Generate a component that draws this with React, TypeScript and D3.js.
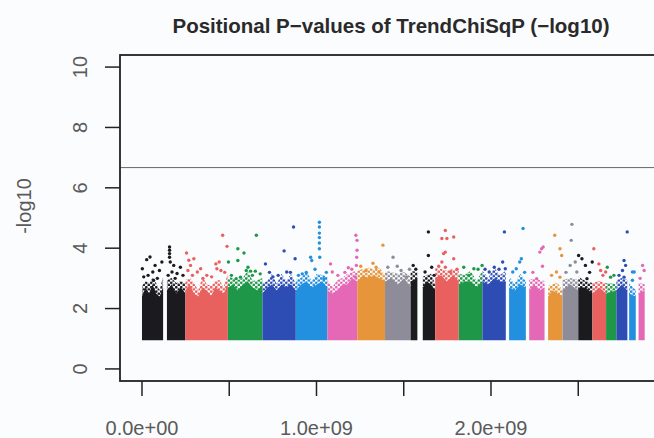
import React from "react";
import * as d3 from "d3";

// chromosome sizes in Mb (hg19), plotted end to end
const chromLengths = [
  249.25, 243.2, 198.02, 191.15, 180.92, 171.12, 159.14, 146.36, 141.21, 135.53, 135.01,
  133.85, 115.17, 107.35, 102.53, 90.35, 81.2, 78.08, 59.13, 63.03, 48.13, 51.3,
];

const chromColors = [
  "#1b1b1f", "#e8615f", "#1e9848", "#2e4db4", "#2290de", "#e468b5", "#e7953b", "#8d8c98",
];

// covered stretches of each chromosome (Mb within chromosome)
const chromSegments: [number, number][][] = [
  [[0, 121], [143, 249]], [[0, 243]], [[0, 198]], [[0, 191]], [[0, 181]], [[0, 171]],
  [[0, 159]], [[0, 146]], [[0, 39], [70, 141]], [[0, 135]], [[0, 135]], [[0, 134]],
  [[19, 115]], [[19, 107]], [[20, 102]], [[0, 90]], [[0, 81]], [[0, 78]], [[0, 59]],
  [[0, 63]], [[10, 48]], [[16, 51]],
];

// upper edge of the solid mass of points (-log10 p), per segment
const denseTops: number[][][] = [
  [[2.4, 2.7, 2.5, 2.8, 2.5, 2.4, 2.7], [2.6, 2.8, 2.5, 2.7, 2.5]],
  [[2.6, 2.8, 2.5, 2.4, 2.7, 2.6, 2.4, 2.7, 2.6, 2.5, 2.8]],
  [[2.7, 2.8, 2.6, 2.8, 2.9, 2.7, 2.6, 2.8]],
  [[2.5, 2.7, 2.8, 2.6, 2.8, 2.7, 2.8, 2.6]],
  [[2.6, 2.8, 2.9, 2.7, 2.8, 2.9, 2.7]],
  [[2.6, 2.5, 2.6, 2.8, 2.8, 3.0, 2.9]],
  [[2.9, 3.1, 3.0, 3.1, 3.0, 2.9]],
  [[2.9, 3.0, 2.8, 3.0, 2.7]],
  [[2.9, 3.0], [2.7, 2.9, 2.8, 2.6]],
  [[3.0, 3.1, 2.9, 3.1, 2.9]],
  [[2.8, 2.9, 2.9, 2.7, 2.9]],
  [[2.9, 2.8, 3.0, 2.9, 2.9]],
  [[2.7, 2.6, 2.8, 2.7]],
  [[2.6, 2.8, 2.6, 2.7]],
  [[2.4, 2.6, 2.5, 2.4]],
  [[2.6, 2.8, 2.6]],
  [[2.7, 2.7, 2.5]],
  [[2.5, 2.7, 2.5]],
  [[2.5, 2.6]],
  [[2.6, 2.8, 2.6]],
  [[2.5, 2.4]],
  [[2.5, 2.6]],
];

// scattered points above the mass: [chromosome index, Mb, -log10 p]
const peaks: [number, number, number][] = [
  [0, 2, 3.32], [0, 27, 3.62], [0, 46, 3.71], [0, 62, 3.21], [0, 75, 3.43], [0, 100, 3.26],
  [0, 114, 3.54], [0, 66, 2.94], [0, 158, 4.04], [0, 158, 3.93], [0, 158, 3.82], [0, 158, 3.7],
  [0, 162, 3.54], [0, 182, 3.43], [0, 172, 3.21], [0, 201, 3.16], [0, 220, 3.37], [0, 10, 3.05],
  [0, 35, 3.1], [0, 88, 3.0], [0, 150, 3.1], [0, 190, 3.0], [0, 235, 3.1],
  [1, 6, 3.84], [1, 19, 3.6], [1, 29, 3.43], [1, 48, 3.65], [1, 14, 3.26], [1, 68, 3.21],
  [1, 87, 3.32], [1, 122, 3.1], [1, 174, 3.48], [1, 193, 3.54], [1, 180, 3.32], [1, 203, 3.26],
  [1, 238, 4.06], [1, 213, 4.43], [1, 40, 3.1], [1, 100, 3.0], [1, 150, 3.05], [1, 225, 3.2],
  [2, 3, 3.54], [2, 57, 3.98], [2, 92, 3.84], [2, 57, 3.59], [2, 115, 3.37], [2, 105, 3.26],
  [2, 130, 3.24], [2, 157, 3.24], [2, 72, 3.04], [2, 47, 2.99], [2, 163, 4.43], [2, 20, 3.1],
  [2, 140, 3.1], [2, 185, 3.15],
  [3, 17, 3.48], [3, 124, 3.91], [3, 178, 4.7], [3, 187, 3.65], [3, 139, 3.21], [3, 90, 3.1],
  [3, 40, 3.2], [3, 60, 3.05], [3, 160, 3.2],
  [4, 37, 3.15], [4, 85, 3.7], [4, 91, 3.59], [4, 135, 4.86], [4, 135, 4.7], [4, 135, 4.5],
  [4, 135, 4.35], [4, 135, 4.17], [4, 135, 3.98], [4, 137, 3.7], [4, 161, 2.99], [4, 60, 3.2],
  [4, 110, 3.3], [4, 15, 3.1], [4, 175, 3.2],
  [5, 18, 3.48], [5, 28, 3.21], [5, 163, 4.43], [5, 170, 4.26], [5, 170, 3.93], [5, 168, 3.7],
  [5, 166, 3.43], [5, 160, 3.04], [5, 140, 3.3], [5, 60, 3.1], [5, 100, 3.2], [5, 120, 3.35],
  [6, 147, 4.1], [6, 50, 3.26], [6, 70, 3.04], [6, 108, 3.37], [6, 125, 3.21], [6, 20, 3.4],
  [6, 90, 3.5],
  [7, 46, 3.7], [7, 16, 3.37], [7, 92, 3.26], [7, 123, 3.04], [7, 70, 3.4], [7, 140, 3.3],
  [8, 15, 3.43], [8, 102, 4.54], [8, 102, 3.76], [8, 83, 3.21], [8, 121, 3.37], [8, 30, 3.3],
  [8, 135, 3.1],
  [9, 58, 4.59], [9, 38, 4.32], [9, 67, 4.32], [9, 106, 4.37], [9, 58, 3.87], [9, 48, 3.82],
  [9, 106, 3.65], [9, 38, 3.54], [9, 58, 3.37], [9, 87, 3.21], [9, 20, 3.4], [9, 125, 3.3],
  [10, 28, 3.37], [10, 86, 3.32], [10, 133, 3.43], [10, 57, 3.1], [10, 110, 3.3],
  [11, 39, 3.21], [11, 126, 4.54], [11, 116, 3.54], [11, 68, 3.37], [11, 131, 3.32],
  [11, 95, 3.3], [11, 15, 3.3],
  [12, 99, 4.65], [12, 89, 3.65], [12, 80, 3.54], [12, 60, 3.32], [12, 40, 3.21], [12, 108, 3.2],
  [13, 80, 3.87], [13, 90, 3.98], [13, 99, 4.04], [13, 62, 2.99], [13, 40, 3.2], [13, 95, 3.4],
  [14, 58, 4.43], [14, 68, 3.21], [14, 88, 3.04], [14, 88, 3.98], [14, 98, 3.76], [14, 40, 3.1],
  [15, 44, 3.43], [15, 73, 3.54], [15, 54, 4.79], [15, 50, 4.26], [15, 82, 3.21], [15, 20, 3.2],
  [16, 2, 3.76], [16, 21, 3.65], [16, 41, 3.43], [16, 50, 2.99], [16, 80, 3.54], [16, 65, 3.2],
  [17, 8, 3.98], [17, 37, 3.48], [17, 47, 3.26], [17, 76, 3.21], [17, 60, 3.1],
  [18, 7, 3.37], [18, 26, 3.04], [18, 45, 3.1],
  [19, 62, 4.54], [19, 44, 3.59], [19, 53, 3.43], [19, 35, 3.26], [19, 44, 3.04], [19, 15, 3.1],
  [20, 29, 3.21], [20, 39, 3.21], [20, 29, 2.94],
  [21, 39, 3.43], [21, 48, 3.26], [21, 25, 3.0],
];

const yTicks = [0, 2, 4, 6, 8, 10];
const xTicks = [0, 500, 1000, 1500, 2000, 2500]; // Mb
const xTickLabels: Record<number, string> = { 0: "0.0e+00", 1000: "1.0e+09", 2000: "2.0e+09" };
const threshold = 6.67;
const minLogP = 1;
const fringe = 0.35; // depth of the speckled fringe above the solid mass

const FONT = "'Liberation Sans', Arial, Helvetica, sans-serif";

export default function App() {
  const W = 654;
  const H = 438;
  const left = 120, right = 662, top = 55, bottom = 381;

  const x = d3.scaleLinear().domain([-126, 2980]).range([left, right]);
  const y = d3.scaleLinear().domain([-0.4, 10.4]).range([bottom, top]);

  const offsets = chromLengths.map((_, i) => d3.sum(chromLengths.slice(0, i)));

  const solid = d3
    .area<[number, number]>()
    .x((d) => x(d[0]))
    .y0(y(minLogP) + 1.6)
    .y1((d) => y(d[1]));

  const speckle = d3
    .area<[number, number]>()
    .x((d) => x(d[0]))
    .y0((d) => y(d[1]) + 1)
    .y1((d, i) => y(d[1] + (i % 2 === 0 ? fringe : fringe * 0.6)));

  const bands = chromSegments.flatMap((segs, ci) =>
    segs.map((seg, si) => {
      const tops = denseTops[ci][si];
      const pts: [number, number][] = tops.map((v, k) => [
        offsets[ci] + seg[0] + ((seg[1] - seg[0]) * k) / (tops.length - 1),
        v,
      ]);
      return { ci, si, pts, color: chromColors[ci % chromColors.length] };
    })
  );

  return (
    <svg
      width={W}
      height={H}
      style={{ position: "absolute", left: 0, top: 0, background: "#fbfcfd" }}
    >
      <defs>
        {chromColors.map((c, i) => (
          <pattern key={i} id={`spk${i}`} width={5} height={4.4} patternUnits="userSpaceOnUse">
            <circle cx={1.3} cy={1.2} r={1.35} fill={c} />
            <circle cx={3.8} cy={3.4} r={1.35} fill={c} />
          </pattern>
        ))}
      </defs>

      <text
        x={391}
        y={33}
        textAnchor="middle"
        fontFamily={FONT}
        fontWeight="bold"
        fontSize={20.5}
        fill="#2a2a2a"
      >
        Positional P−values of TrendChiSqP (−log10)
      </text>

      {/* dense masses */}
      {bands.map((b) => (
        <g key={`${b.ci}-${b.si}`} fill={b.color}>
          <path d={speckle(b.pts) ?? ""} fill={`url(#spk${b.ci % chromColors.length})`} />
          <path d={solid(b.pts) ?? ""} />
        </g>
      ))}

      {/* scattered points */}
      {peaks.map(([ci, pos, v], i) => (
        <circle
          key={i}
          cx={x(offsets[ci] + pos)}
          cy={y(v)}
          r={1.7}
          fill={chromColors[ci % chromColors.length]}
        />
      ))}

      <line x1={left} x2={W} y1={y(threshold)} y2={y(threshold)} stroke="#666" strokeWidth={1} />

      <rect
        x={left}
        y={top}
        width={right - left}
        height={bottom - top}
        fill="none"
        stroke="#222"
        strokeWidth={1.8}
      />

      {/* y axis */}
      {yTicks.map((t) => (
        <g key={t}>
          <line x1={105} x2={left} y1={y(t)} y2={y(t)} stroke="#222" strokeWidth={1.5} />
          <text
            transform={`translate(87,${y(t)}) rotate(-90)`}
            textAnchor="middle"
            fontFamily={FONT}
            fontSize={20}
            fill="#5a5a5a"
          >
            {t}
          </text>
        </g>
      ))}
      <text
        transform="translate(31,206) rotate(-90)"
        textAnchor="middle"
        fontFamily={FONT}
        fontSize={20}
        fill="#5a5a5a"
      >
        -log10
      </text>

      {/* x axis */}
      {xTicks.map((t) => (
        <g key={t}>
          <line x1={x(t)} x2={x(t)} y1={bottom} y2={396} stroke="#222" strokeWidth={1.5} />
          {xTickLabels[t] && (
            <text
              x={x(t)}
              y={435}
              textAnchor="middle"
              fontFamily={FONT}
              fontSize={20}
              fill="#5a5a5a"
            >
              {xTickLabels[t]}
            </text>
          )}
        </g>
      ))}
    </svg>
  );
}
